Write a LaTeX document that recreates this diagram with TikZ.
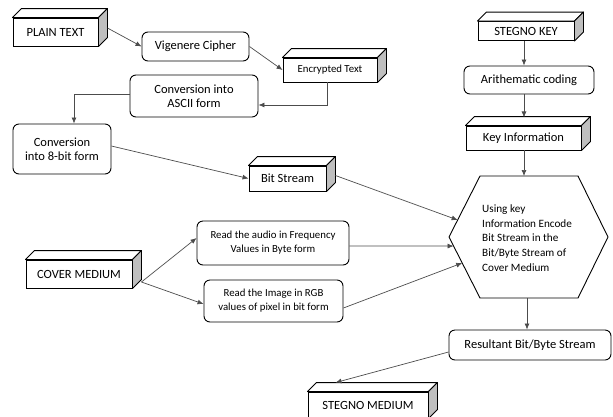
\documentclass[tikz,border=0pt]{standalone}
\usepackage{fontspec}
\setmainfont{Carlito}
\usetikzlibrary{arrows.meta,calc}
\begin{document}
\begin{tikzpicture}[x=1pt,y=-1pt,
  box/.style={draw=black, line width=0.9pt, fill=white, inner sep=0pt, align=center, font=\fontsize{12.5}{14.5}\selectfont},
  cube/.style={box},
  rbox/.style={box, rounded corners=6pt},
  small/.style={font=\fontsize{10.8}{13.8}\selectfont},
  arr/.style={draw=black!70, line width=0.7pt, -{Latex[length=6pt,width=5pt]}},
  topface/.style={draw=black, line width=0.9pt, fill=white, line join=round},
  sideface/.style={draw=black, line width=0.9pt, fill=black!25, line join=round}]
\useasboundingbox (0,0) rectangle (613,416);

% 3D boxes (front faces)
\node[cube, minimum width=85, minimum height=28] (pt) at (55.5,32) {PLAIN TEXT};
\node[cube, small, minimum width=94, minimum height=24] (enc) at (330,70) {Encrypted Text};
\node[cube, minimum width=77, minimum height=25] (bs) at (287.5,178.5) {Bit Stream};
\node[cube, minimum width=96, minimum height=19] (sk) at (526,31) {STEGNO KEY};
\node[cube, minimum width=115, minimum height=24] (ki) at (523.5,138) {Key Information};
\node[cube, minimum width=106, minimum height=28] (cm) at (79,274) {COVER MEDIUM};
\node[cube, minimum width=120, minimum height=26] (sm) at (368,405) {STEGNO MEDIUM};
\foreach \n in {pt,enc,bs,sk,ki,cm,sm}{
  \draw[topface] (\n.north west) -- ++(9pt,9pt) -- ([shift={(9pt,9pt)}]\n.north east) -- (\n.north east) -- cycle;
  \draw[sideface] (\n.north east) -- ++(9pt,9pt) -- ([shift={(9pt,9pt)}]\n.south east) -- (\n.south east) -- cycle;
}

% rounded boxes
\node[rbox, minimum width=107, minimum height=29] (vc) at (195.5,46.5) {Vigenere Cipher};
\node[rbox, minimum width=128, minimum height=42] (ascii) at (194,96) {Conversion into\\ASCII form};
\node[rbox, minimum width=98, minimum height=50] (eight) at (62,149) {Conversion\\into 8-bit form};
\node[rbox, minimum width=130, minimum height=28] (ac) at (529,80) {Arithematic coding};
\node[rbox, small, minimum width=152, minimum height=44] (au) at (273,243) {Read the audio in Frequency\\Values in Byte form};
\node[rbox, small, minimum width=139, minimum height=42] (im) at (273.5,301) {Read the Image in RGB\\values of pixel in bit form};
\node[rbox, minimum width=162, minimum height=30] (res) at (530,345) {Resultant Bit/Byte Stream};

% hexagon
\coordinate (hL) at (449,237);
\coordinate (hTL) at (480,176);
\coordinate (hTR) at (578,176);
\coordinate (hR) at (608,237);
\coordinate (hBR) at (578,298);
\coordinate (hBL) at (480,298);
\draw[line width=0.9pt, line join=round] (hL) -- (hTL) -- (hTR) -- (hR) -- (hBR) -- (hBL) -- cycle;
\node[anchor=west, align=left, inner sep=0pt, font=\fontsize{11.2}{14.6}\selectfont] (hex) at (482,238)
  {Using key\\Information Encode\\Bit Stream in the\\Bit/Byte Stream of\\Cover Medium};
\coordinate (hin1) at ($(hL)!0.279!(hTL)$);
\coordinate (hin2) at ($(hL)!0.148!(hBL)$);
\coordinate (hin3) at ($(hL)!0.426!(hBL)$);
\coordinate (htop) at (524,176);
\coordinate (hbot) at (527,298);

% connectors
\draw[arr] ([shift={(9pt,4pt)}]pt.east) -- (vc.west);
\draw[arr] (vc.east) -- (enc.west);
\draw[arr] ([xshift=-3pt]enc.south) |- ([yshift=-9pt]ascii.east);
\draw[arr] ([yshift=2pt]ascii.west) -| ([xshift=12pt]eight.north);
\draw[arr] ([yshift=3pt]eight.east) -- (bs.west);
\draw[arr] ([shift={(9pt,3pt)}]bs.east) -- (hin1);
\draw[arr] ([xshift=-2pt]sk.south) -- ([xshift=-2pt]sk.south |- ac.north);
\draw[arr] ([xshift=-5pt]ac.south) -- ++(0,23);
\draw[arr] ([xshift=0.5pt]ki.south) -- (htop);
\draw[arr] ([shift={(9pt,-8pt)}]cm.east) -- ([yshift=5pt]au.west);
\draw[arr] ([shift={(9pt,-8pt)}]cm.east) -- ([yshift=-3pt]im.west);
\draw[arr] ([yshift=-3pt]au.east) -- (hin2);
\draw[arr] ([yshift=-7pt]im.east) -- (hin3);
\draw[arr] (hbot) -- ([xshift=-3pt]res.north);
\draw[arr] ([yshift=-7pt]res.west) -- ([shift={(28pt,9pt)}]sm.north west);
\end{tikzpicture}
\end{document}
